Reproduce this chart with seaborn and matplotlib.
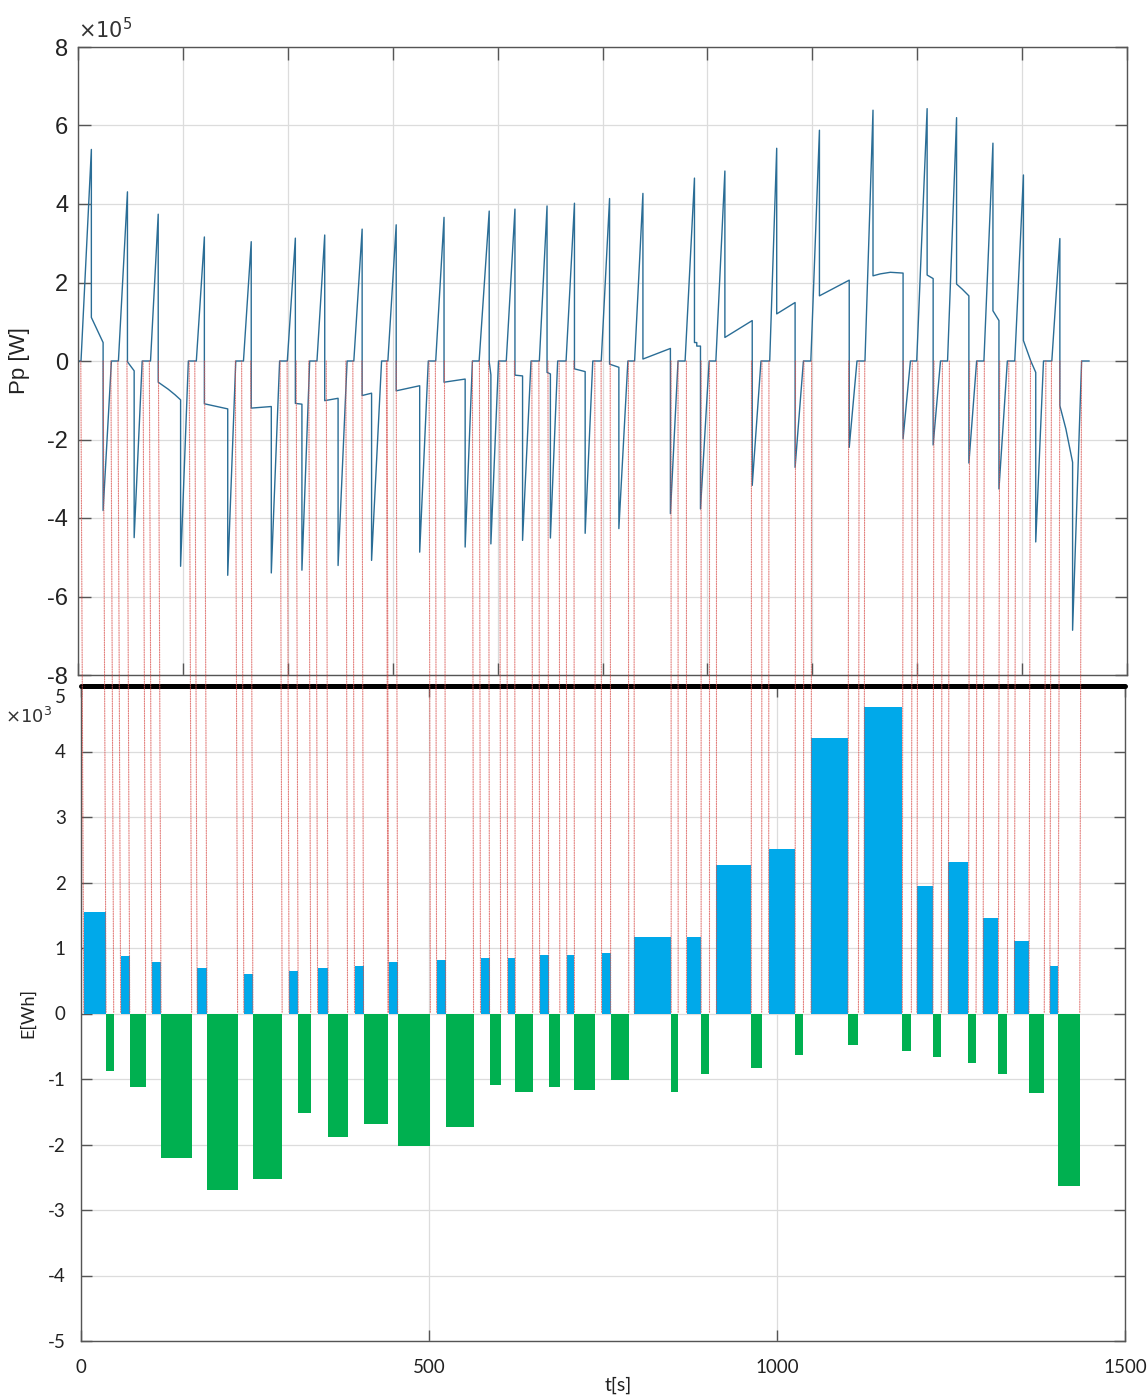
import matplotlib
matplotlib.use("Agg")
import matplotlib.pyplot as plt
import matplotlib.transforms as mtransforms
import seaborn as sns
from matplotlib.patches import ConnectionPatch
from matplotlib.ticker import MultipleLocator

# ---------------------------------------------------------------------------
# Traction power trace Pp (time in s, power in units of 1e5 W)
# ---------------------------------------------------------------------------
time_s = [
    0, 4.3,
    19.1, 19.1, 35.9, 35.9, 47.8,
    57.8, 70.7, 70.7, 80.3, 80.3, 91.8,
    103.7, 114.7, 114.7, 129.1, 138.7, 146.7, 146.7, 157.8,
    169.2, 180.7, 180.7, 214.1, 214.1, 225.6,
    236.6, 247.7, 247.7, 276.4, 276.4, 288.3,
    299.3, 310.8, 310.8, 320.2, 320.2, 331.3,
    341.7, 352.8, 352.8, 371.9, 371.9, 384.8,
    394.4, 406.3, 406.3, 419.8, 419.8, 434.1,
    443.1, 455.0, 455.0, 488.6, 488.6, 500.9,
    511.5, 523.4, 523.4, 553.6, 553.6, 564.0,
    573.6, 588.0, 588.0, 590.4, 590.4, 601.3,
    612.4, 624.8, 624.8, 635.7, 635.7, 647.8,
    659.7, 670.7, 670.7, 675.5, 675.5, 685.9,
    697.9, 709.9, 709.9, 725.2, 725.2, 736.1,
    748.2, 760.1, 760.1, 773.4, 773.4, 786.3,
    795.9, 807.8, 807.8, 847.1, 847.1, 858.0,
    868.1, 881.5, 881.5, 884.8, 884.8, 890.1, 890.1, 902.5,
    912.1, 925.0, 925.0, 964.1, 964.1, 976.6,
    989.1, 999.1, 999.1, 1025.4, 1025.4, 1037.3,
    1047.9, 1060.2, 1060.2, 1102.8, 1102.8, 1113.9,
    1125.3, 1136.8, 1136.8, 1147.3, 1161.6, 1179.8, 1179.8, 1190.3,
    1199.3, 1214.2, 1214.2, 1222.8, 1222.8, 1233.3,
    1243.4, 1256.3, 1256.3, 1264.4, 1273.9, 1273.9, 1285.0,
    1295.4, 1308.3, 1308.3, 1316.9, 1316.9, 1328.9,
    1339.5, 1351.9, 1351.9, 1362.4, 1369.5, 1369.5, 1380.6,
    1392.5, 1404.0, 1404.0, 1412.6, 1422.2, 1422.2, 1435.1, 1446.0,
]
power_1e5W = [
    0, 0,
    5.39, 1.11, 0.47, -3.81, 0,
    0, 4.31, -0.02, -0.25, -4.50, 0,
    0, 3.74, -0.54, -0.72, -0.86, -0.99, -5.23, 0,
    0, 3.16, -1.09, -1.22, -5.46, 0,
    0, 3.04, -1.20, -1.16, -5.40, 0,
    0, 3.13, -1.08, -1.10, -5.33, 0,
    0, 3.21, -1.01, -0.95, -5.21, 0,
    0, 3.36, -0.88, -0.82, -5.08, 0,
    0, 3.47, -0.76, -0.63, -4.87, 0,
    0, 3.66, -0.54, -0.46, -4.74, 0,
    0, 3.82, -0.02, -0.35, -4.66, 0,
    0, 3.87, -0.36, -0.38, -4.57, 0,
    0, 3.95, -0.29, -0.33, -4.51, 0,
    0, 4.02, -0.20, -0.27, -4.39, 0,
    0, 4.14, -0.08, -0.16, -4.27, 0,
    0, 4.27, 0.05, 0.32, -3.89, 0,
    0, 4.66, 0.47, 0.47, 0.38, 0.38, -3.77, 0,
    0, 4.84, 0.60, 1.03, -3.17, 0,
    0, 5.42, 1.20, 1.49, -2.71, 0,
    0, 5.88, 1.66, 2.06, -2.20, 0,
    0, 6.39, 2.17, 2.22, 2.26, 2.24, -1.98, 0,
    0, 6.43, 2.19, 2.10, -2.14, 0,
    0, 6.20, 1.96, 1.83, 1.66, -2.60, 0,
    0, 5.55, 1.28, 1.03, -3.26, 0,
    0, 4.74, 0.52, 0.0, -0.29, -4.61, 0,
    0, 3.12, -1.14, -1.73, -2.58, -6.86, 0, 0,
]

# ---------------------------------------------------------------------------
# Energy per phase (units of 1e3 Wh): traction phase from start to end,
# braking phase from end of traction to end of braking
# ---------------------------------------------------------------------------
trac_start_s = [4, 57, 102, 167, 234, 299, 340, 393, 442, 511, 574, 613, 659,
                698, 748, 795, 870, 913, 988, 1049, 1125, 1201, 1246, 1296,
                1341, 1392]
trac_end_s = [36, 70, 115, 181, 247, 312, 355, 406, 455, 524, 587, 624, 672,
              709, 761, 848, 891, 963, 1026, 1102, 1180, 1224, 1275, 1318,
              1362, 1404]
brake_end_s = [47, 93, 159, 225, 289, 330, 383, 441, 502, 564, 603, 649, 688,
               739, 787, 858, 903, 978, 1038, 1117, 1193, 1236, 1286, 1331,
               1384, 1435]
energy_trac_1e3Wh = [1.55, 0.88, 0.78, 0.69, 0.60, 0.65, 0.69, 0.73, 0.78,
                     0.81, 0.85, 0.85, 0.89, 0.89, 0.93, 1.17, 1.17, 2.27,
                     2.51, 4.21, 4.68, 1.94, 2.31, 1.46, 1.11, 0.73]
energy_brake_1e3Wh = [-0.88, -1.12, -2.21, -2.69, -2.53, -1.52, -1.89, -1.69,
                      -2.02, -1.73, -1.09, -1.20, -1.12, -1.17, -1.01, -1.20,
                      -0.92, -0.83, -0.64, -0.48, -0.57, -0.66, -0.76, -0.92,
                      -1.21, -2.64]

power_ticks = [-8, -6, -4, -2, 0, 2, 4, 6, 8]
energy_ticks = [-5, -4, -3, -2, -1, 0, 1, 2, 3, 4, 5]
time_ticks = [0, 500, 1000, 1500]

# ---------------------------------------------------------------------------
sns.set_theme(style="white")
plt.rcParams["font.family"] = ["Liberation Sans", "DejaVu Sans"]
plt.rcParams["axes.unicode_minus"] = False

W, H = 1148, 1400
fig = plt.figure(figsize=(W / 100, H / 100), dpi=100)


def px_box(left, top, right, bottom):
    return [left / W, 1 - bottom / H, (right - left) / W, (bottom - top) / H]


ax_p = fig.add_axes(px_box(78, 47, 1127, 675))
ax_e = fig.add_axes(px_box(81, 686, 1125, 1341))

grid_kw = dict(color="#dcdcdc", linewidth=0.9)
spine_col = "#555555"
line_col = "#2a6d96"
blue = "#00a9ea"
green = "#00b050"
red = "#d9534f"

# --- power panel -----------------------------------------------------------
sns.lineplot(x=time_s, y=power_1e5W, ax=ax_p, sort=False, estimator=None,
             color=line_col, linewidth=1.0)
ax_p.set_xlim(0, 1500)
ax_p.set_ylim(-8, 8)
ax_p.xaxis.set_major_locator(MultipleLocator(150))
ax_p.set_yticks(power_ticks)
ax_p.set_yticklabels([str(v) for v in power_ticks])
ax_p.grid(True, **grid_kw)
ax_p.set_axisbelow(True)
ax_p.tick_params(axis="both", direction="in", length=9, width=1.0,
                 color=spine_col, top=True, right=True, bottom=True, left=True,
                 labelbottom=False, labelsize=17, pad=7, labelcolor="#222222")
for s in ax_p.spines.values():
    s.set_color(spine_col)
    s.set_linewidth(1.0)
    s.set_visible(True)
ax_p.set_ylabel("Pp [W]", fontsize=16, color="#222222")
ax_p.yaxis.set_label_coords(-0.046, 0.5)
ax_p.text(0.0, 1.008, r"$\times10^5$", transform=ax_p.transAxes,
          fontsize=15, ha="left", va="bottom", color="#333333")

# --- energy panel ----------------------------------------------------------
trac_width = [e - s for s, e in zip(trac_start_s, trac_end_s)]
brake_width = [e - s for s, e in zip(trac_end_s, brake_end_s)]
ax_e.bar(trac_start_s, energy_trac_1e3Wh, width=trac_width, align="edge",
         color=blue, linewidth=0, zorder=2)
ax_e.bar(trac_end_s, energy_brake_1e3Wh, width=brake_width, align="edge",
         color=green, linewidth=0, zorder=2)
ax_e.set_xlim(0, 1500)
ax_e.set_ylim(-5, 5)
ax_e.set_xticks(time_ticks)
ax_e.set_xticklabels([str(v) for v in time_ticks])
ax_e.set_yticks(energy_ticks)
ax_e.set_yticklabels([str(v) for v in energy_ticks])
ax_e.grid(True, **grid_kw)
ax_e.set_axisbelow(True)
ax_e.tick_params(axis="both", direction="in", length=8, width=1.0,
                 color=spine_col, top=True, right=True, bottom=True, left=True,
                 labelsize=13.5, labelcolor="#222222")
ax_e.tick_params(axis="y", pad=11)
ax_e.tick_params(axis="x", pad=13)
for lab in ax_e.get_xticklabels() + ax_e.get_yticklabels():
    lab.set_fontfamily(["Lato", "DejaVu Sans"])
# the top label sits just below the heavy separator line
top_lab = ax_e.get_yticklabels()[-1]
top_lab.set_transform(top_lab.get_transform()
                      + mtransforms.ScaledTranslation(0, -10 / 100,
                                                      fig.dpi_scale_trans))
for s in ax_e.spines.values():
    s.set_color(spine_col)
    s.set_linewidth(1.0)
    s.set_visible(True)
ax_e.spines["top"].set_color("black")
ax_e.spines["top"].set_linewidth(3.6)
ax_e.spines["top"].set_capstyle("round")
ax_e.set_xlabel("t[s]", fontsize=14, family=["Lato", "DejaVu Sans"],
                color="#222222")
ax_e.xaxis.set_label_coords(0.515, -0.055)
ax_e.set_ylabel("E[Wh]", fontsize=13, family=["Lato", "DejaVu Sans"],
                color="#222222")
ax_e.yaxis.set_label_coords(-0.043, 0.5)
fig.text(52 / W, 1 - 716 / H, r"$\times10^3$", fontsize=13, ha="right",
         va="center", color="#333333", family=["Lato", "DejaVu Sans"])

# --- dotted markers at phase boundaries, from Pp = 0 down to E = 0 ---------
for t in sorted(set(trac_start_s + trac_end_s + brake_end_s)):
    con = ConnectionPatch(xyA=(t, 0), coordsA=ax_p.transData,
                          xyB=(t, 0), coordsB=ax_e.transData,
                          color=red, linestyle=(0, (1, 1.2)), linewidth=0.8,
                          alpha=0.75, zorder=1)
    fig.add_artist(con)

fig.savefig("out.png", dpi=100)
